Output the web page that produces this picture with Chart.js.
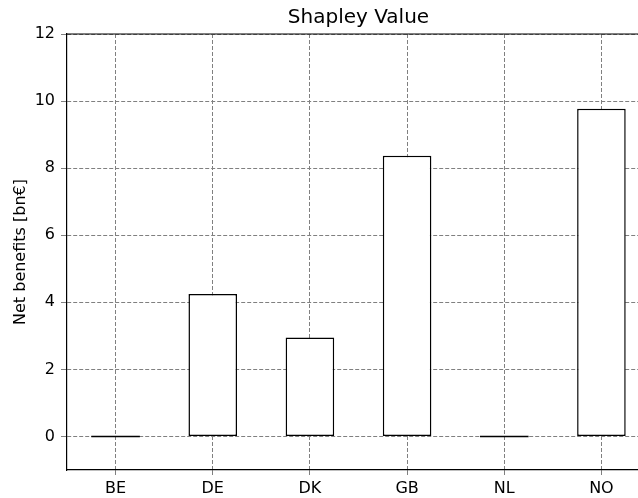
<!DOCTYPE html>
<html><head><meta charset="utf-8">
<script src="https://cdn.jsdelivr.net/npm/chart.js@4"></script>
<style>
html,body{margin:0;padding:0;background:#fff;overflow:hidden;width:638px;height:498px}
#wrap{width:660px;height:498px;position:relative}
</style></head><body>
<div id="wrap"><canvas id="c" width="660" height="498"></canvas></div>
<script>
const categories = ["BE","DE","DK","GB","NL","NO"];
const netBenefits = [0, 4.25, 2.95, 8.37, 0, 9.77];
const yTicks = [0,2,4,6,8,10,12];
const chartTitle = "Shapley Value";
const yLabel = "Net benefits [bn€]";

const FONT = "'DejaVu Sans', sans-serif";

const framePlugin = {
  id: 'frame',
  afterDatasetsDraw(chart) {
    const ctx = chart.ctx, a = chart.chartArea;
    ctx.save();
    const meta = chart.getDatasetMeta(0);
    const ys = chart.scales.y;
    ctx.strokeStyle = '#000'; ctx.lineWidth = 1.5;
    meta.data.forEach((el, i) => {
      if (netBenefits[i] === 0) {
        const y = ys.getPixelForValue(0);
        ctx.beginPath();
        ctx.moveTo(el.x - el.width/2, y);
        ctx.lineTo(el.x + el.width/2, y);
        ctx.stroke();
      }
    });
    ctx.strokeStyle = '#000'; ctx.lineWidth = 1.2;
    ctx.beginPath();
    ctx.moveTo(a.left, a.top);
    ctx.lineTo(a.right, a.top);
    ctx.stroke();
    ctx.restore();
  }
};

new Chart(document.getElementById('c'), {
  type: 'bar',
  data: {
    labels: categories,
    datasets: [{
      data: netBenefits,
      backgroundColor: '#ffffff',
      borderColor: '#000000',
      borderWidth: 1.5,
      borderSkipped: false,
      barPercentage: 0.5,
      categoryPercentage: 1.0
    }]
  },
  options: {
    responsive: false,
    animation: false,
    devicePixelRatio: 1,
    layout: { padding: { left: 0, right: 10, top: 0, bottom: 0 } },
    plugins: {
      legend: { display: false },
      tooltip: { enabled: false },
      title: {
        display: true, text: chartTitle, color: '#000', fullSize: false,
        font: { family: FONT, size: 20, weight: 'normal', lineHeight: 1.2 },
        padding: { top: 6, bottom: 4 }
      }
    },
    scales: {
      x: {
        grid: { color: '#808080', lineWidth: 1, drawTicks: true, tickLength: 5, offset: false },
        border: { display: true, color: '#000', width: 1.2, dash: [4,2] },
        ticks: { color: '#000', font: { family: FONT, size: 16 }, padding: 4, maxRotation: 0 },
        afterFit(s) { s.height = 28; }
      },
      y: {
        min: -1, max: 12,
        afterBuildTicks(s) { s.ticks = yTicks.map(v => ({ value: v })); },
        grid: { color: '#808080', lineWidth: 1, drawTicks: true, tickLength: 6 },
        border: { display: true, color: '#000', width: 1.2, dash: [4,2] },
        ticks: { color: '#000', font: { family: FONT, size: 16 }, padding: 6 },
        title: { display: true, text: yLabel, color: '#000',
                 font: { family: FONT, size: 16 }, padding: { top: 11, bottom: 0 } },
        afterFit(s) { s.width = 67; }
      }
    }
  },
  plugins: [framePlugin]
});
</script>
</body></html>
